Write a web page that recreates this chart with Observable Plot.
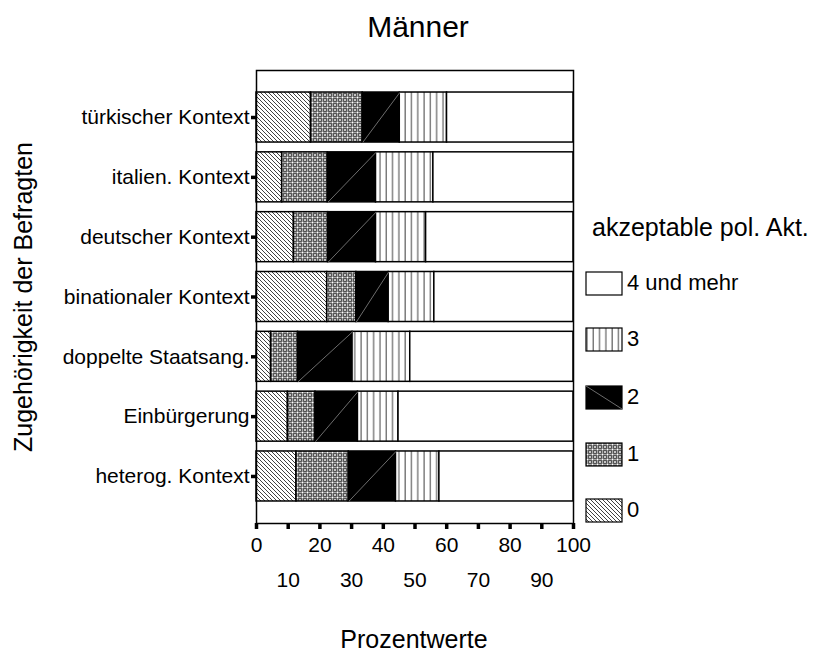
<!DOCTYPE html>
<html>
<head>
<meta charset="utf-8">
<script src="https://cdn.jsdelivr.net/npm/d3@7"></script>
<script src="https://cdn.jsdelivr.net/npm/@observablehq/plot@0.6"></script>
<style>
  html, body { margin: 0; padding: 0; background: #fff; }
  #wrap { position: relative; width: 815px; height: 655px; font-family: "Liberation Sans", Arial, sans-serif; color: #000; }
  #wrap svg.plot { position: absolute; left: 0; top: 0; }
  .abs { position: absolute; white-space: nowrap; line-height: 1; }
</style>
</head>
<body>
<svg width="0" height="0" style="position:absolute">
  <defs>
    <pattern id="p0" width="4" height="4" patternUnits="userSpaceOnUse">
      <rect width="4" height="4" fill="#fff"/>
      <path d="M-1,-1 L5,5 M-1,3 L1,5 M3,-1 L5,1" stroke="#111" stroke-width="0.8"/>
    </pattern>
    <pattern id="p1" width="5" height="5" patternUnits="userSpaceOnUse">
      <rect width="5" height="5" fill="#fff"/>
      <circle cx="2.5" cy="2.5" r="1.5" fill="#fff" stroke="#222" stroke-width="0.9"/>
      <circle cx="0" cy="0" r="1.5" fill="#fff" stroke="#222" stroke-width="0.9"/>
      <circle cx="5" cy="0" r="1.5" fill="#fff" stroke="#222" stroke-width="0.9"/>
      <circle cx="0" cy="5" r="1.5" fill="#fff" stroke="#222" stroke-width="0.9"/>
      <circle cx="5" cy="5" r="1.5" fill="#fff" stroke="#222" stroke-width="0.9"/>
    </pattern>
    <pattern id="p2" width="4" height="4" patternUnits="userSpaceOnUse">
      <rect width="4" height="4" fill="#000"/>
    </pattern>
    <pattern id="p3" width="6.3" height="6" patternUnits="userSpaceOnUse">
      <rect width="6.3" height="6" fill="#fff"/>
      <line x1="2" y1="0" x2="2" y2="6" stroke="#777" stroke-width="1.4"/>
    </pattern>
    <pattern id="p4" width="4" height="4" patternUnits="userSpaceOnUse">
      <rect width="4" height="4" fill="#fff"/>
    </pattern>
  </defs>
</svg>
<div id="wrap"></div>
<script>
// ---- data ----
const categories = ["türkischer Kontext", "italien. Kontext", "deutscher Kontext", "binationaler Kontext", "doppelte Staatsang.", "Einbürgerung", "heterog. Kontext"];
const seriesNames = ["0", "1", "2", "3", "4 und mehr"];
const v0 = [17.2, 8.1, 11.8, 22.3, 4.6, 9.9, 12.6];
const v1 = [16.3, 14.4, 10.8, 9.2, 8.5, 8.7, 16.5];
const v2 = [11.7, 15.2, 15.1, 10.2, 17.2, 13.4, 14.9];
const v3 = [14.9, 18.1, 15.8, 14.4, 18.2, 12.8, 13.7];
const v4 = [39.9, 44.2, 46.5, 43.9, 51.5, 55.2, 42.3];
const xTicksMajor = [0, 20, 40, 60, 80, 100];
const xTicksMinor = [10, 30, 50, 70, 90];
const titleText = "Männer";
const xTitle = "Prozentwerte";
const yTitle = "Zugehörigkeit der Befragten";
const legendTitle = "akzeptable pol. Akt.";

const series = [v0, v1, v2, v3, v4];
const rows = [];
categories.forEach((c, i) => {
  let acc = 0;
  series.forEach((vals, k) => {
    rows.push({cat: c, i, k, x1: acc, x2: acc + vals[i], v: vals[i]});
    acc += vals[i];
  });
});

const half = 0.418;     // half bar thickness in band units
const outer = 0.786;    // outer padding in band units
const FONT = '"Liberation Sans", Arial, sans-serif';

const marks = [];
series.forEach((_, k) => {
  marks.push(Plot.rect(rows.filter(d => d.k === k), {
    x1: "x1", x2: "x2",
    y1: d => d.i - half, y2: d => d.i + half,
    fill: `url(#p${k})`, stroke: "#000", strokeWidth: 1.5
  }));
});
marks.push(Plot.link(rows.filter(d => d.k === 2), {
  x1: "x1", x2: "x2", y1: d => d.i + half, y2: d => d.i - half,
  stroke: "#888", strokeWidth: 0.8
}));
marks.push(Plot.frame({stroke: "#000", strokeWidth: 1.5}));
marks.push(Plot.axisY({
  ticks: d3.range(categories.length),
  tickFormat: i => categories[i],
  tickSize: 5, tickPadding: 2, strokeWidth: 3.5,
  fontSize: 21, label: null
}));
marks.push(Plot.axisX({
  ticks: d3.range(0, 101, 10), tickFormat: () => "",
  tickSize: 6, strokeWidth: 3.5, label: null
}));
marks.push(Plot.axisX({
  ticks: xTicksMajor, tickSize: 0, tickPadding: 14, fontSize: 21, label: null, tickFormat: d => String(d)
}));
marks.push(Plot.axisX({
  ticks: xTicksMinor, tickSize: 0, tickPadding: 49, fontSize: 21, label: null, tickFormat: d => String(d)
}));

const plot = Plot.plot({
  width: 815, height: 655,
  marginLeft: 256, marginRight: 242, marginTop: 70, marginBottom: 132,
  style: {fontFamily: FONT, color: "#000", background: "transparent", overflow: "visible"},
  x: {domain: [0, 100]},
  y: {domain: [categories.length - 1 + outer, -outer]},
  marks
});
plot.classList.add("plot");
const wrap = document.getElementById("wrap");
wrap.appendChild(plot);

function addText(txt, css) {
  const d = document.createElement("div");
  d.className = "abs";
  d.textContent = txt;
  Object.assign(d.style, css);
  wrap.appendChild(d);
  return d;
}
addText(titleText, {left: "418px", top: "12px", fontSize: "30px", transform: "translateX(-50%)"});
addText(xTitle, {left: "414px", top: "627px", fontSize: "25px", transform: "translateX(-50%)"});
addText(yTitle, {left: "23px", top: "297px", fontSize: "25px", transform: "translate(-50%, -50%) rotate(-90deg)"});
addText(legendTitle, {left: "592px", top: "215px", fontSize: "25px"});
const legendTops = [272, 328, 386, 443, 499];
[4, 3, 2, 1, 0].forEach((k, j) => {
  const top = legendTops[j];
  const sw = document.createElementNS("http://www.w3.org/2000/svg", "svg");
  sw.setAttribute("width", 38); sw.setAttribute("height", 25);
  sw.style.position = "absolute"; sw.style.left = "585px"; sw.style.top = (top - 1) + "px";
  sw.innerHTML = `<rect x="1" y="1" width="36" height="23" fill="url(#p${k})" stroke="#000" stroke-width="1.2"/>` +
    (k === 2 ? `<line x1="1" y1="1" x2="37" y2="24" stroke="#888" stroke-width="0.8"/>` : "");
  wrap.appendChild(sw);
  addText(seriesNames[k], {left: "627px", top: top + "px", fontSize: "22px"});
});
</script>
</body>
</html>
